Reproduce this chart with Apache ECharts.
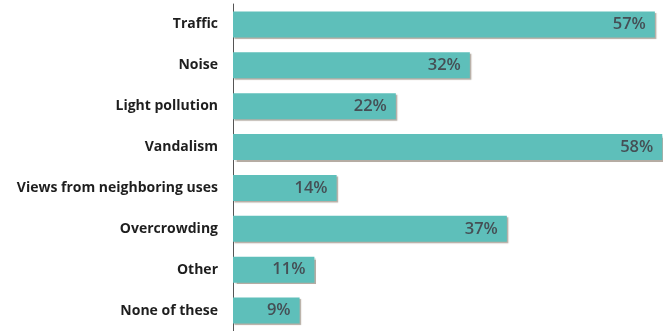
<!DOCTYPE html>
<html><head><meta charset="utf-8">
<script src="https://cdn.jsdelivr.net/npm/echarts@6/dist/echarts.min.js"></script>
<style>html,body{margin:0;padding:0;background:#fff}#c{width:663px;height:331px}</style>
</head><body><div id="c"></div>
<script>
const categories = ["Traffic","Noise","Light pollution","Vandalism","Views from neighboring uses","Overcrowding","Other","None of these"];
const values = [57,32,22,58,14,37,11,9];

const chart = echarts.init(document.getElementById('c'), null, {renderer:'canvas'});
chart.setOption({
  animation:false,
  grid:{left:233, top:4, bottom:0, right:0},
  xAxis:{type:'value', min:0, max:58.1, show:false},
  yAxis:{type:'category', data:categories, inverse:true,
    axisLine:{show:true, lineStyle:{color:'#555', width:1}},
    axisTick:{show:false},
    axisLabel:{margin:15, color:'#1e1e1e', fontFamily:'Open Sans', fontWeight:'bold', fontSize:14}
  },
  series:[{
    type:'bar', data:values, barWidth:26, clip:false,
    itemStyle:{color:'#5ebfba', shadowColor:'rgba(90,70,50,0.45)', shadowOffsetX:1.5, shadowOffsetY:1.5, shadowBlur:1},
    label:{show:true, position:'insideRight', distance:9, formatter:'{c}%', color:'#454f55', fontFamily:'Open Sans', fontWeight:600, fontSize:16.5}
  }]
});
</script></body></html>
